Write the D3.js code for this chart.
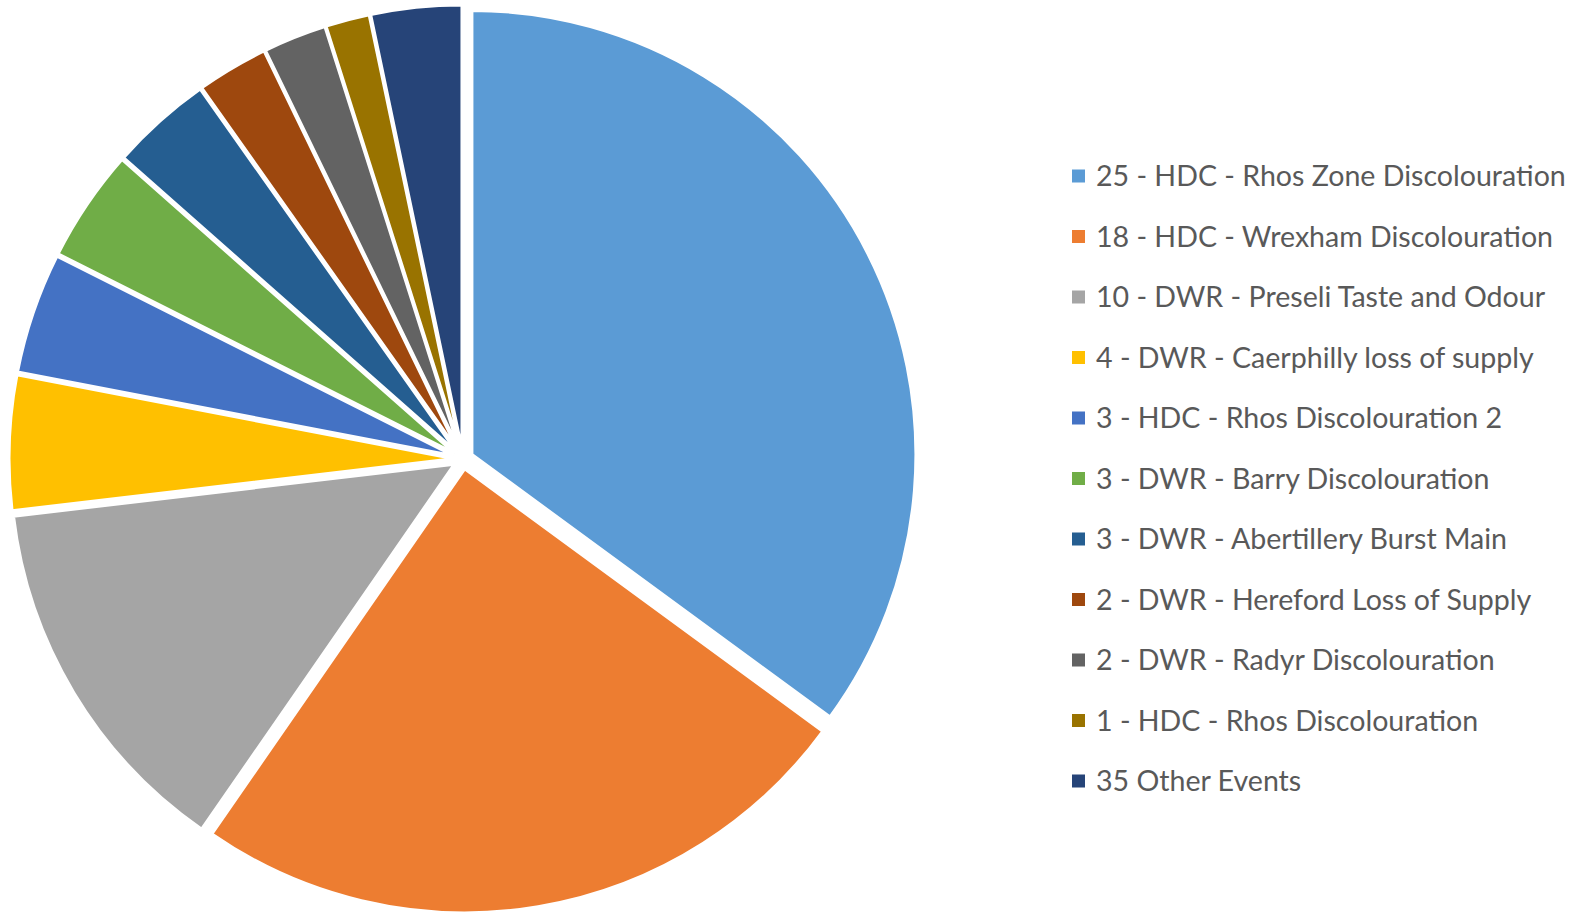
<!DOCTYPE html>
<html>
<head>
<meta charset="utf-8">
<script src="https://cdn.jsdelivr.net/npm/d3@7"></script>
<style>
  html, body { margin: 0; padding: 0; background: #fff; }
  svg { display: block; }
</style>
</head>
<body>
<div id="chart"></div>
<script>
// legend labels, in slice order (clockwise from 12 o'clock)
var labels = [
  "25 - HDC - Rhos Zone Discolouration",
  "18 - HDC - Wrexham Discolouration",
  "10 - DWR - Preseli Taste and Odour",
  "4 - DWR - Caerphilly loss of supply",
  "3 - HDC - Rhos Discolouration 2",
  "3 - DWR - Barry Discolouration",
  "3 - DWR - Abertillery Burst Main",
  "2 - DWR - Hereford Loss of Supply",
  "2 - DWR - Radyr Discolouration",
  "1 - HDC - Rhos Discolouration",
  "35 Other Events"
];
// slice shares (%)
var shares = [35.1, 24.6, 13.5, 4.9, 4.4, 4.1, 3.7, 2.6, 2.3, 1.6, 3.3];
var colors = ["#5B9BD5", "#ED7D31", "#A5A5A5", "#FFC000", "#4472C4", "#70AD47",
              "#255E91", "#9E480E", "#636363", "#997300", "#264478"];

var width = 1581, height = 912;
var cx = 463, cy = 459, radius = 444, explode = 10;

var svg = d3.select("#chart").append("svg")
  .attr("width", width).attr("height", height);

var pie = d3.pie().sort(null).value(d => d.value);
var arc = d3.arc().innerRadius(0).outerRadius(radius);

var data = labels.map((l, i) => ({ label: l, value: shares[i], color: colors[i] }));

var g = svg.append("g").attr("transform", `translate(${cx},${cy})`);

// every slice pulled out a little from the centre, white borders
g.selectAll("path.slice").data(pie(data)).enter()
  .append("path")
  .attr("class", "slice")
  .attr("d", arc)
  .attr("fill", d => d.data.color)
  .attr("stroke", "#fff")
  .attr("stroke-width", 3)
  .attr("transform", d => {
    var mid = (d.startAngle + d.endAngle) / 2;
    return `translate(${explode * Math.sin(mid)},${-explode * Math.cos(mid)})`;
  });

// legend
var legendX = 1072, legendY = 176, rowH = 60.5;
var legend = svg.append("g").attr("font-family", "Lato, 'Open Sans', sans-serif");

var rows = legend.selectAll("g.row").data(data).enter()
  .append("g").attr("class", "row")
  .attr("transform", (d, i) => `translate(${legendX},${legendY + i * rowH})`);

rows.append("rect")
  .attr("x", 0).attr("y", -6.5)
  .attr("width", 13).attr("height", 13)
  .attr("fill", d => d.color);

var texts = rows.append("text")
  .attr("x", 24).attr("y", 0).attr("dy", "0.36em")
  .attr("fill", "#595959")
  .attr("font-size", 28)
  .text(d => d.label);

// fit font size so the first row spans the same width as the reference
var w0 = texts.node().getComputedTextLength();
var fs = 28 * 470 / w0;
texts.attr("font-size", fs);
</script>
</body>
</html>
